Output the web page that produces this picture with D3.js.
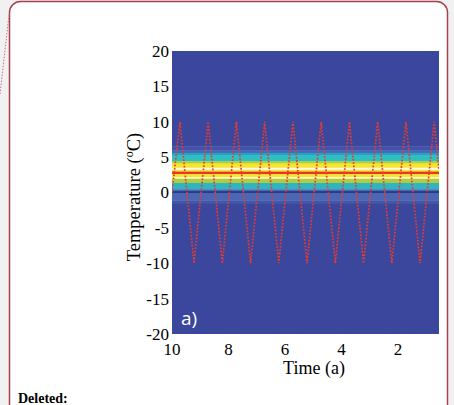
<!DOCTYPE html>
<html>
<head>
<meta charset="utf-8">
<script src="https://cdn.jsdelivr.net/npm/d3@7"></script>
<style>
  html, body { margin: 0; padding: 0; background: #f1f1f1; }
  svg { display: block; }
</style>
</head>
<body>
<svg id="canvas" width="454" height="405"></svg>
<script>
// temperature band edges (°C, top to bottom) and the density level of each band
const bandEdges = [20, 6.5, 6.0, 5.6, 5.3, 4.4, 4.1, 3.5, 3.2, 2.95, 2.6, 2.15, 1.95, 1.35, 0.45, 0.2, -0.05, -1.1, -1.6, -20];
const bandLevels = [1, 1.4, 2, 3, 4, 5, 6, 7, 6, 9, 6, 7, 5, 3.7, 2, 0.3, 2, 1.5, 1];

// forcing curve (red dotted)
const forcingTime = [10, 9.72, 9.22, 8.72, 8.22, 7.72, 7.22, 6.72, 6.22, 5.72, 5.22, 4.72, 4.22, 3.72, 3.22, 2.72, 2.22, 1.72, 1.22, 0.72, 0.55];
const forcingTemp = [0, 10, -10, 10, -10, 10, -10, 10, -10, 10, -10, 10, -10, 10, -10, 10, -10, 10, -10, 10, 3.2];

const yTicks = [20, 15, 10, 5, 0, -5, -10, -15, -20];
const xTicks = [10, 8, 6, 4, 2];

const svg = d3.select('#canvas');

// page frame
svg.append('rect').attr('width', 454).attr('height', 405).attr('fill', '#f1f1f1');
svg.append('rect')
  .attr('x', 9.5).attr('y', 1.5)
  .attr('width', 438).attr('height', 480)
  .attr('rx', 11)
  .attr('fill', '#ffffff')
  .attr('stroke', '#a3414d')
  .attr('stroke-width', 1.5);
svg.append('line')
  .attr('x1', 9).attr('y1', 15).attr('x2', 0).attr('y2', 94)
  .attr('stroke', '#c27883')
  .attr('stroke-width', 1)
  .attr('stroke-dasharray', '1.5,1.5');

const plotLeft = 172, plotRight = 439, plotTop = 51, plotBottom = 334;

const x = d3.scaleLinear().domain([10, 0.55]).range([plotLeft, plotRight]);
const y = d3.scaleLinear().domain([-20, 20]).range([plotBottom, plotTop]);
const color = d3.scaleLinear()
  .domain([0, 1, 2, 3, 4, 5, 6, 7, 8, 9])
  .range(['#1e2c6c', '#3a479c', '#4a66b4', '#2a9ecb', '#2fbfbf', '#b4cc3c', '#f6e52e', '#fffbe2', '#f5a030', '#e8352b']);

svg.append('clipPath').attr('id', 'plotClip')
  .append('rect')
  .attr('x', plotLeft).attr('y', plotTop)
  .attr('width', plotRight - plotLeft).attr('height', plotBottom - plotTop);

const plot = svg.append('g').attr('clip-path', 'url(#plotClip)');

plot.selectAll('rect.band')
  .data(bandLevels)
  .enter()
  .append('rect')
  .attr('class', 'band')
  .attr('x', plotLeft)
  .attr('width', plotRight - plotLeft)
  .attr('y', (d, i) => y(bandEdges[i]))
  .attr('height', (d, i) => y(bandEdges[i + 1]) - y(bandEdges[i]) + 0.3)
  .attr('fill', (d) => color(d));

const line = d3.line()
  .x((d) => x(d[0]))
  .y((d) => y(d[1]));

plot.append('path')
  .datum(forcingTime.map((t, i) => [t, forcingTemp[i]]))
  .attr('d', line)
  .attr('fill', 'none')
  .attr('stroke', '#ea3a2f')
  .attr('stroke-width', 1.7)
  .attr('stroke-dasharray', '1.7,1.6');

plot.append('text')
  .attr('x', 181).attr('y', 325)
  .attr('fill', '#ffffff')
  .attr('font-family', 'Open Sans, sans-serif')
  .attr('font-size', 19)
  .text('a)');

// axes labels
const serif = 'Liberation Serif, Times New Roman, serif';

svg.selectAll('text.ytick')
  .data(yTicks)
  .enter()
  .append('text')
  .attr('class', 'ytick')
  .attr('x', 169)
  .attr('y', (d) => y(d))
  .attr('dy', '0.35em')
  .attr('text-anchor', 'end')
  .attr('font-family', serif)
  .attr('font-size', 17)
  .text((d) => String(d));

svg.selectAll('text.xtick')
  .data(xTicks)
  .enter()
  .append('text')
  .attr('class', 'xtick')
  .attr('x', (d) => x(d))
  .attr('y', 355)
  .attr('text-anchor', 'middle')
  .attr('font-family', serif)
  .attr('font-size', 17)
  .text((d) => d);

svg.append('text')
  .attr('x', 314).attr('y', 374)
  .attr('text-anchor', 'middle')
  .attr('font-family', serif)
  .attr('font-size', 18)
  .text('Time (a)');

const ylab = svg.append('text')
  .attr('transform', 'translate(140,197) rotate(-90)')
  .attr('text-anchor', 'middle')
  .attr('font-family', serif)
  .attr('font-size', 18.5);
ylab.append('tspan').text('Temperature (');
ylab.append('tspan').attr('font-size', 12).attr('dy', -7).text('o');
ylab.append('tspan').attr('dy', 7).text('C)');

svg.append('text')
  .attr('x', 18).attr('y', 403)
  .attr('font-family', serif)
  .attr('font-size', 14)
  .attr('font-weight', 'bold')
  .text('Deleted:');
</script>
</body>
</html>
